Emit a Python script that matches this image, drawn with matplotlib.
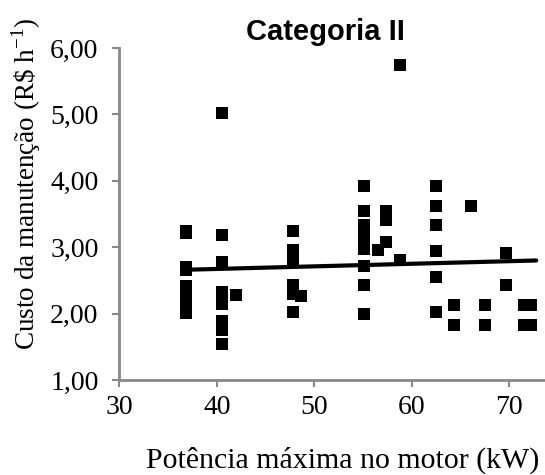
import numpy as np
import matplotlib
matplotlib.use("Agg")
import matplotlib.pyplot as plt

plt.rcParams["mathtext.fontset"] = "custom"
plt.rcParams["mathtext.rm"] = "Liberation Serif"

# Categoria II - custo de manutencao vs potencia maxima
potencia = [36.8] * 9 + [40.5] * 12 + [42.0] + [47.8] * 7 + [48.6] \
    + [55.1] * 9 + [56.6] + [57.4] * 3 + [58.8] * 2 + [62.5] * 6 \
    + [64.4] * 2 + [66.1] + [67.5] * 2 + [69.7] * 2 + [71.5] * 2 + [72.3] * 2
custo = [3.24, 3.21, 2.70, 2.66, 2.42, 2.30, 2.20, 2.10, 2.01,          # 36.8
         5.02, 3.18, 2.78, 2.33, 2.25, 2.15, 1.89, 1.82, 1.75, 1.54, 1.54, 1.54,  # 40.5
         2.28,                                                    # 42.0
         3.25, 2.96, 2.88, 2.80, 2.43, 2.30, 2.02,                # 47.8
         2.26,                                                    # 48.6
         3.92, 3.55, 3.33, 3.25, 3.16, 2.97, 2.72, 2.43, 1.99,    # 55.1
         2.96,                                                    # 56.6
         3.54, 3.41, 3.08,                                        # 57.4
         5.74, 2.80,                                              # 58.8
         3.92, 3.62, 3.34, 2.95, 2.55, 2.03,                      # 62.5
         2.13, 1.83,                                              # 64.4
         3.62,                                                    # 66.1
         2.13, 1.83,                                              # 67.5
         2.91, 2.43,                                              # 69.7
         2.13, 1.83,                                              # 71.5
         2.13, 1.83]                                              # 72.3

# linear trend line (end points)
trend_x = [36.8, 72.8]
trend_y = [2.66, 2.80]

xticks = [30, 40, 50, 60, 70]
yticks = [1, 2, 3, 4, 5, 6]

fig = plt.figure(figsize=(5.45, 4.75), dpi=100)
ax = fig.add_axes([0.219, 0.2, 0.781, 0.699])

ax.plot(potencia, custo, linestyle="none", marker="s", markersize=8.5,
        color="black", markeredgewidth=0)
ax.plot(trend_x, trend_y, color="black", linewidth=3, solid_capstyle="round")

ax.set_xlim(30, 73.7)
ax.set_ylim(1, 6)
ax.set_xticks(xticks)
ax.set_yticks(yticks)
ax.set_xticklabels([str(t) for t in xticks])
ax.set_yticklabels([("%.2f" % t).replace(".", ",") for t in yticks])

for side in ["top", "right"]:
    ax.spines[side].set_visible(False)
for side in ["left", "bottom"]:
    ax.spines[side].set_color("#888888")
    ax.spines[side].set_linewidth(2)
ax.tick_params(axis="both", direction="out", length=5, width=1.5, color="#888888",
               labelsize=20)
ax.tick_params(axis="y", pad=10)
ax.tick_params(axis="x", pad=6)
for lab in ax.get_xticklabels() + ax.get_yticklabels():
    lab.set_family("Liberation Serif")

ax.set_xlabel("Potência máxima no motor (kW)", family="Liberation Serif",
              fontsize=21.5)
ax.xaxis.set_label_coords(0.525, -0.2)
ax.set_ylabel("Custo da manutenção (R\\$ h$^{-1}$)", family="Liberation Serif",
              fontsize=19.5)
ax.yaxis.set_label_coords(-0.18, 0.59)
ax.set_title("Categoria II", family="Liberation Sans", fontweight="bold",
             fontsize=21, x=0.485, pad=6)

plt.savefig("out.png", dpi=100)
